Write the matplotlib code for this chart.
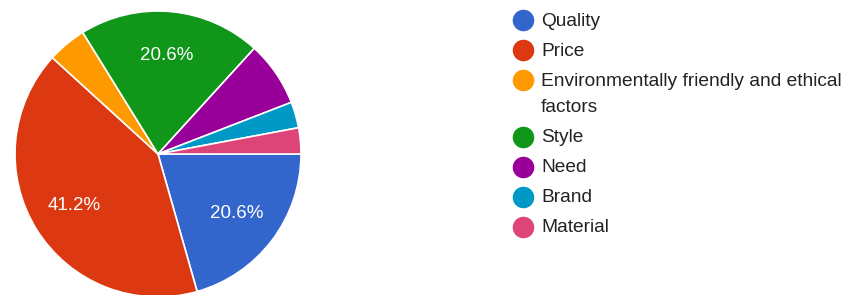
import matplotlib
matplotlib.use("Agg")
import matplotlib.pyplot as plt

plt.rcParams['font.family'] = ['Liberation Sans', 'DejaVu Sans']

# --- data (68 responses) ---
labels = ["Quality", "Price", "Environmentally friendly and ethical\nfactors",
          "Style", "Need", "Brand", "Material"]
counts = [14, 28, 3, 14, 5, 2, 2]
colors = ["#3366cc", "#dc3912", "#ff9900", "#109618", "#990099", "#0099c6", "#dd4477"]

W, H = 849, 295
fig = plt.figure(figsize=(W / 100, H / 100), dpi=100)

# pie: centre ~ (158, 154) px, radius ~143 px
cx, cy, r = 158, 154, 143
ax = fig.add_axes([(cx - r) / W, (H - cy - r) / H, 2 * r / W, 2 * r / H])

def pct_fmt(p):
    return f"{p:.1f}%" if p >= 10 else ""

wedges, _, autotexts = ax.pie(
    counts, colors=colors, startangle=0, counterclock=False,
    autopct=pct_fmt, pctdistance=0.69,
    wedgeprops=dict(edgecolor="white", linewidth=1.2),
    textprops=dict(color="white", fontsize=13.5),
)
ax.set_xlim(-1, 1)
ax.set_ylim(-1, 1)
ax.set_aspect("equal")
ax.axis("off")

# --- legend, drawn in pixel coords ---
lax = fig.add_axes([0, 0, 1, 1])
lax.set_xlim(0, W)
lax.set_ylim(H, 0)
lax.axis("off")

y = 20
for lab, col in zip(labels, colors):
    lax.plot(523, y, "o", ms=14.5, color=col, mec=col)
    for k, line in enumerate(lab.split("\n")):
        lax.text(541, y + 1 + k * 27, line, fontsize=13.8, color="#222222",
                 va="center", ha="left")
    y += 30 + 27 * lab.count("\n")

fig.savefig("out.png", dpi=100, facecolor="white")
